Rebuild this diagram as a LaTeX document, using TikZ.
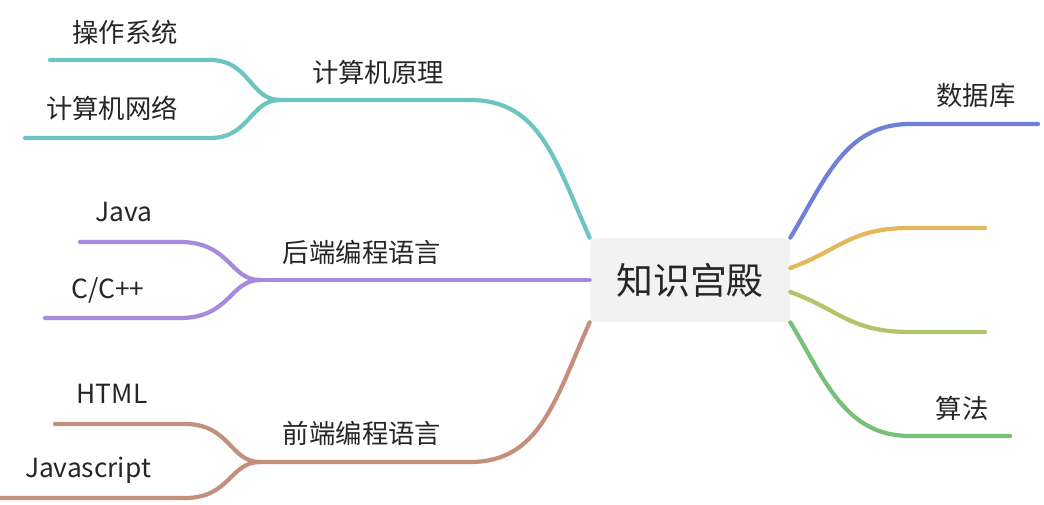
\documentclass[tikz,border=0pt]{standalone}
\usepackage{fontspec}
\setmainfont{Noto Sans CJK SC}
\usetikzlibrary{positioning}
\definecolor{cteal}{HTML}{6CC5C3}
\definecolor{cpurple}{HTML}{A68AE0}
\definecolor{cbrown}{HTML}{C4907E}
\definecolor{cblue}{HTML}{6F80D8}
\definecolor{cyellow}{HTML}{E2B85A}
\definecolor{colive}{HTML}{B0C46A}
\definecolor{cgreen}{HTML}{77C07A}
\tikzset{branch/.style={line width=2.4pt, line cap=round},
  lbl/.style={font=\fontsize{15}{18}\selectfont, text=black!85, inner sep=0pt}}
\begin{document}
\begin{tikzpicture}[x=0.02cm, y=-0.02cm]
    \useasboundingbox (0,0) rectangle (1044,504);
    %Nodes
    \node[fill=black!5, rounded corners=3pt, minimum width=4cm, minimum height=1.68cm, font=\fontsize{21}{24}\selectfont, text=black!85](root) at (690,280){知识宫殿};
    \node[lbl](yuanli) at (378,72){计算机原理};
    \node[lbl](os) at (125,32){操作系统};
    \node[lbl](net) at (112,108){计算机网络};
    \node[lbl](backend) at (362,252){后端编程语言};
    \node[lbl](java) at (124,212){Java};
    \node[lbl](cpp) at (108,290){C/C++};
    \node[lbl](frontend) at (362,433){前端编程语言};
    \node[lbl](html) at (112,394){HTML};
    \node[lbl](js) at (88,470){Javascript};
    \node[lbl](db) at (976,96){数据库};
    \node[lbl](algo) at (962,408){算法};
    \coordinate (yuanli_j) at (280,100);
    \coordinate (backend_j) at (260,280);
    \coordinate (frontend_j) at (260,462);
    %Lines
    \draw[branch, cteal] (root.north west) .. controls (555,160) and (540,100) .. (470,100) -- (yuanli_j);
    \draw[branch, cteal] (yuanli_j) .. controls (250,100) and (250,60) .. (210,60) -- (50,60);
    \draw[branch, cteal] (yuanli_j) .. controls (250,100) and (250,138) .. (210,138) -- (25,138);
    \draw[branch, cpurple] (root.west) -- (backend_j);
    \draw[branch, cpurple] (backend_j) .. controls (230,280) and (230,242) .. (180,242) -- (80,242);
    \draw[branch, cpurple] (backend_j) .. controls (230,280) and (230,318) .. (180,318) -- (45,318);
    \draw[branch, cbrown] (root.south west) .. controls (555,400) and (540,462) .. (470,462) -- (frontend_j);
    \draw[branch, cbrown] (frontend_j) .. controls (230,462) and (230,424) .. (185,424) -- (55,424);
    \draw[branch, cbrown] (frontend_j) .. controls (230,462) and (230,498) .. (185,498) -- (0,498);
    \draw[branch, cblue] (root.north east) .. controls (825,180) and (845,124) .. (910,124) -- (1038,124);
    \draw[branch, cyellow] (root.east) ++(0,-12) .. controls (840,250) and (850,228) .. (910,228) -- (985,228);
    \draw[branch, colive] (root.east) ++(0,12) .. controls (840,310) and (850,332) .. (910,332) -- (985,332);
    \draw[branch, cgreen] (root.south east) .. controls (825,380) and (845,436) .. (910,436) -- (1010,436);
\end{tikzpicture}
\end{document}
